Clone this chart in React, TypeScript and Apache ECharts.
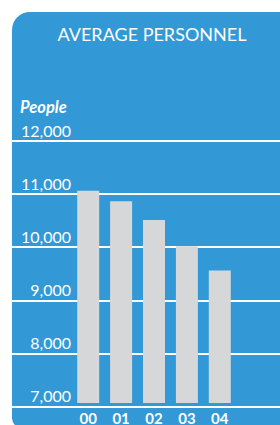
import React, { useEffect, useRef } from "react";
import * as echarts from "echarts";

const categories = ["00", "01", "02", "03", "04"];
const personnel = [11050, 10850, 10490, 9990, 9530];
const yMin = 7000;
const yMax = 12000;
const yStep = 1000;

const BLUE = "#3298d6";
const BAR = "#d6d7d9";

export default function App() {
  const ref = useRef<HTMLDivElement>(null);
  useEffect(() => {
    const chart = echarts.init(ref.current!, undefined, { renderer: "svg" });
    chart.setOption({
      animation: false,
      backgroundColor: "#ffffff",
      graphic: [
        {
          type: "rect",
          z: -10,
          shape: { x: 12, y: 12, width: 290, height: 416, r: [18, 18, 0, 10] },
          style: { fill: BLUE },
        },
        {
          type: "text",
          x: 152,
          y: 34,
          style: {
            text: "AVERAGE PERSONNEL",
            fill: "#ffffff",
            font: "18px Lato",
            textAlign: "center",
            textVerticalAlign: "middle",
          },
        },
        {
          type: "text",
          x: 20,
          y: 107,
          style: {
            text: "People",
            fill: "#ffffff",
            font: "italic bold 16.5px Lato",
            textAlign: "left",
            textVerticalAlign: "middle",
          },
        },
      ],
      grid: [
        { left: 12, right: 0, top: 141, bottom: 18.5 },
        { left: 71.75, right: 43.75, top: 141, bottom: 18.5 },
      ],
      xAxis: [
        { type: "value", gridIndex: 0, show: false },
        {
          type: "category",
          gridIndex: 1,
          data: categories,
          axisLine: { show: false },
          axisTick: { show: false },
          axisLabel: {
            color: "#ffffff",
            fontFamily: "Lato",
            fontSize: 15,
            fontWeight: "bold",
            margin: 7,
          },
        },
      ],
      yAxis: [
        {
          type: "value",
          gridIndex: 0,
          min: yMin,
          max: yMax,
          interval: yStep,
          axisLine: { show: false },
          axisTick: { show: false },
          splitLine: { show: true, lineStyle: { color: "#ffffff", width: 2 } },
          axisLabel: {
            color: "#ffffff",
            fontFamily: "Lato",
            fontSize: 16,
            margin: -59,
            align: "right",
            verticalAlign: "bottom",
            padding: [0, 0, 3, 0],
            formatter: (v: number) => v.toLocaleString("en-US"),
          },
        },
        {
          type: "value",
          gridIndex: 1,
          min: yMin,
          max: yMax,
          interval: yStep,
          show: false,
        },
      ],
      series: [
        {
          type: "bar",
          xAxisIndex: 1,
          yAxisIndex: 1,
          data: personnel,
          barWidth: 22,
          itemStyle: { color: BAR },
          z: 5,
        },
      ],
    });
    return () => chart.dispose();
  }, []);
  return (
    <div
      ref={ref}
      style={{ position: "fixed", left: 0, top: 0, width: 280, height: 425 }}
    />
  );
}
